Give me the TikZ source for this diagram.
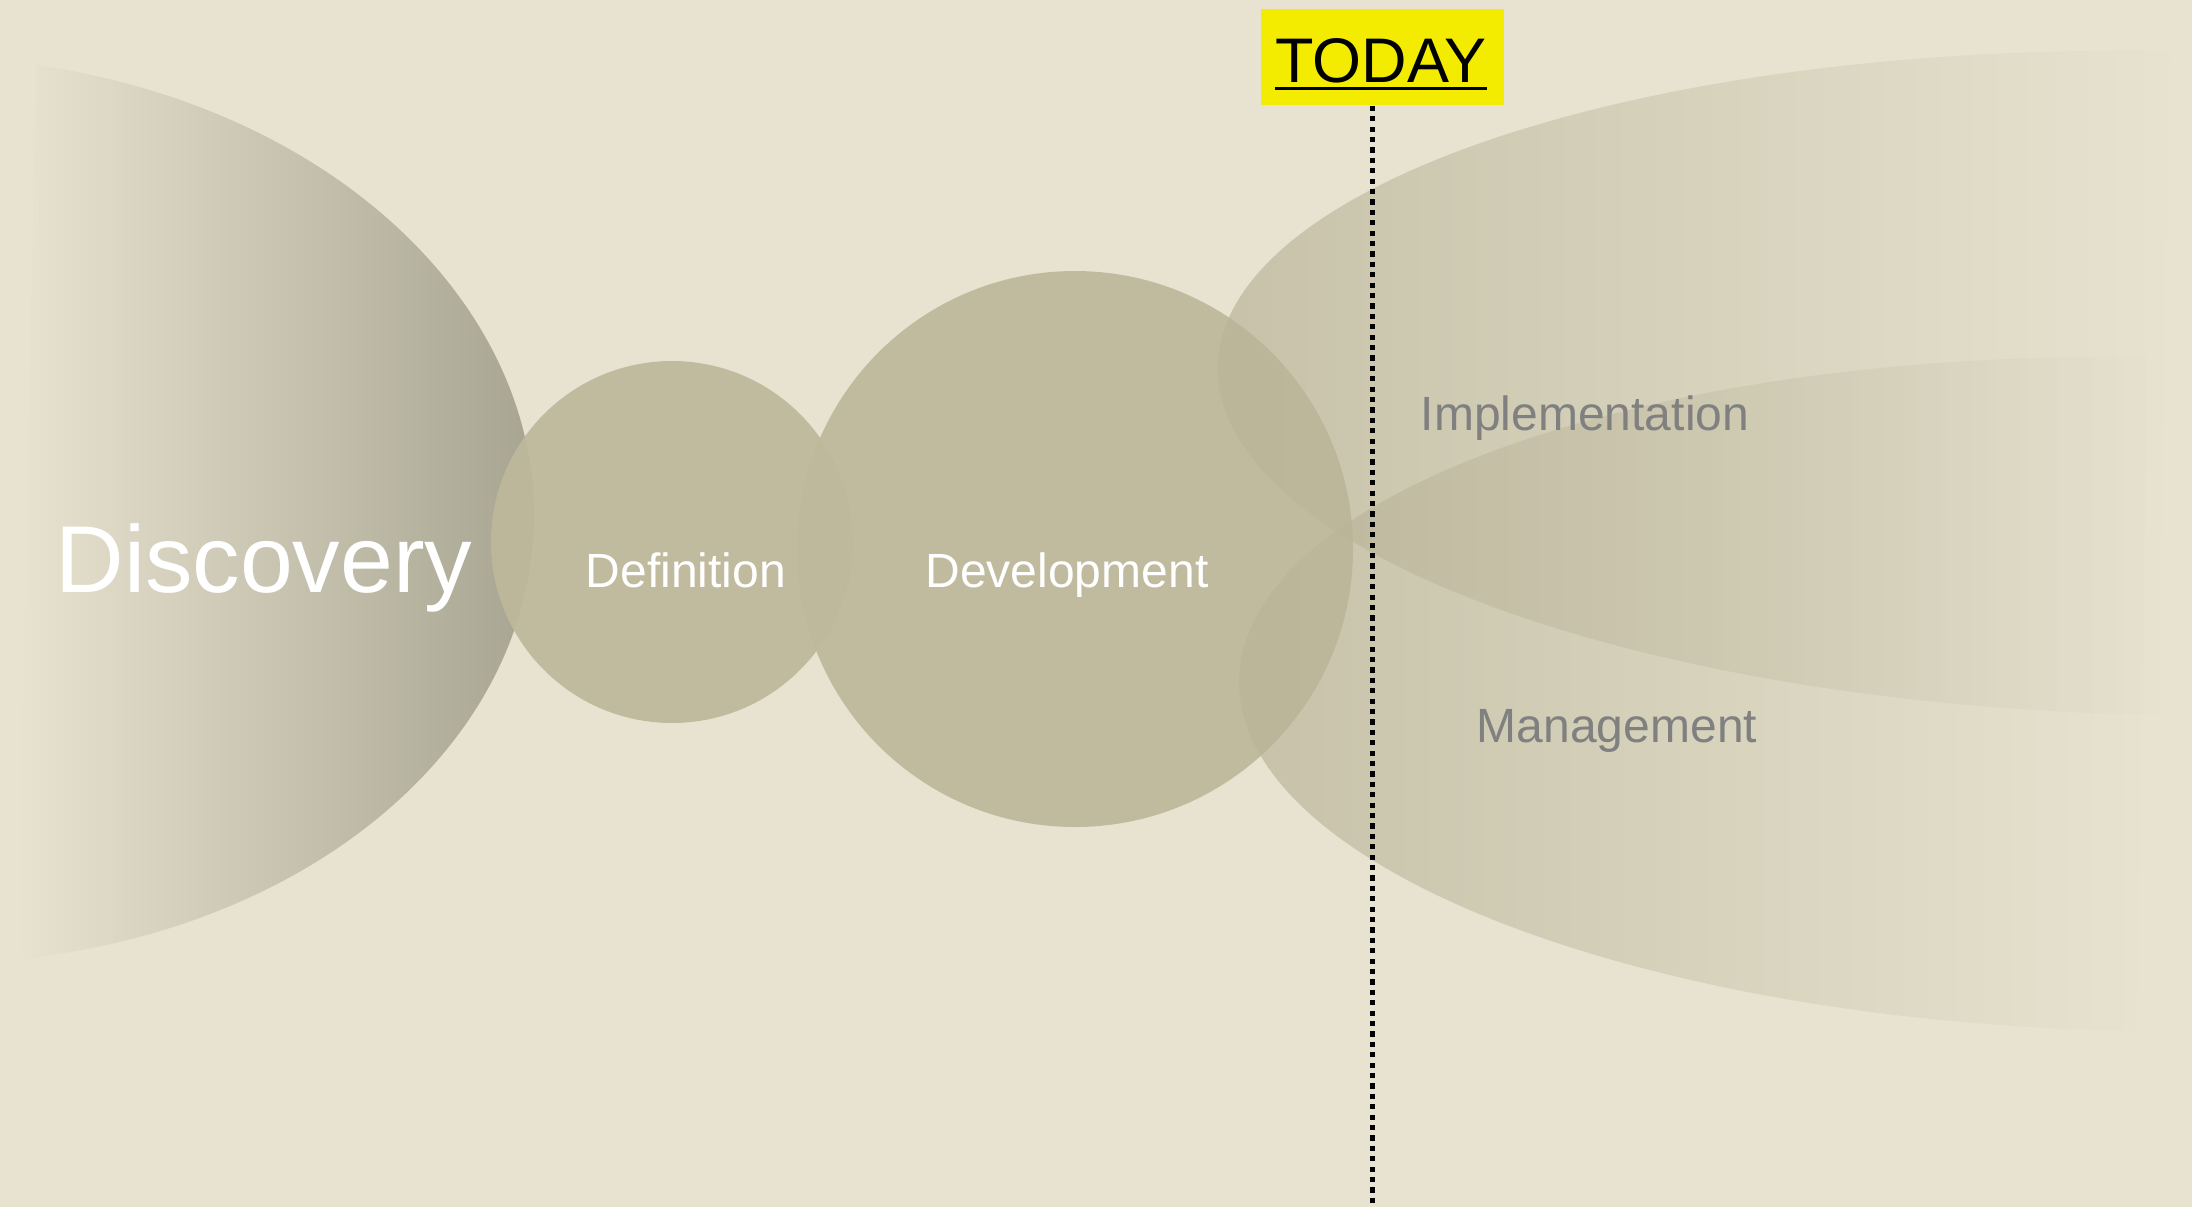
\documentclass[tikz,border=0pt]{standalone}
\usepackage{fontspec}
\setmainfont{Liberation Sans}
\usetikzlibrary{fadings}

\definecolor{paper}{RGB}{232,227,208}
\definecolor{stone}{RGB}{161,159,139}
\definecolor{pebble}{RGB}{190,184,156}
\definecolor{sand}{RGB}{186,181,153}
\definecolor{marker}{RGB}{244,236,0}
\definecolor{ash}{RGB}{128,128,128}

\tikzset{every picture/.style={line width=0.75pt}}
\tikzset{
  phase/.style={fill=pebble, fill opacity=0.93},
  branch/.style={fill=sand, fill opacity=0.72, path fading=east},
  phaselabel/.style={anchor=base, inner sep=0pt, text=white, font=\fontsize{24pt}{28pt}\selectfont},
  branchlabel/.style={anchor=base, inner sep=0pt, text=ash, font=\fontsize{24pt}{28pt}\selectfont},
  todaybox/.style={fill=marker, minimum width=121.5pt, minimum height=48pt, inner sep=0pt},
  todaytext/.style={anchor=base, inner sep=0pt, text=black, font=\fontsize{31.5pt}{36pt}\selectfont},
  nowline/.style={line width=2.5pt, dash pattern={on 2.6pt off 2.6pt}},
}

\begin{document}
\begin{tikzpicture}[x=0.5pt,y=0.5pt,yscale=-1,xscale=1]
  \useasboundingbox (0,0) rectangle (2192,1207);
  \fill[paper] (0,0) rectangle (2192,1207);

  %Shape: Ellipse cut at the left edge, widest phase
  \shade[left color=paper, right color=stone, rotate around={1.2:(27,512)}]
    (27,65) arc[start angle=-80.76, end angle=80.76, x radius=604, y radius=453] -- cycle;

  %Shape: Circle
  \fill[phase] (672,542) circle[radius=181];
  %Shape: Circle
  \fill[phase] (1075,549) circle[radius=278];

  %Shape: Half Ellipse, upper branch
  \fill[branch, rotate around={1:(2165,383)}]
    (2165,715) arc[start angle=90, end angle=270, x radius=947, y radius=332] -- cycle;
  %Shape: Half Ellipse, lower branch
  \fill[branch, rotate around={0.9:(2142,694)}]
    (2142,1031) arc[start angle=90, end angle=270, x radius=903, y radius=337] -- cycle;

  % Today marker
  \node[todaybox] (today) at (1382.5,57) {};
  \node[todaytext] (todaylabel) at (1381,82) {TODAY};
  \draw[line width=1.5pt] ([yshift=3pt]todaylabel.base west) -- ([yshift=3pt]todaylabel.base east);
  \coordinate (nowfoot) at (1372,1207);
  \draw[nowline] (today.south -| nowfoot) -- (nowfoot);

  % Text Node
  \node[phaselabel, font=\fontsize{47.5pt}{54pt}\selectfont] (discovery) at (264,592) {Discovery};
  % Text Node
  \node[phaselabel] (definition) at (686,587) {Definition};
  % Text Node
  \node[phaselabel] (development) at (1067,587) {Development};
  % Text Node
  \node[branchlabel] (implementation) at (1585,430) {Implementation};
  % Text Node
  \node[branchlabel] (management) at (1617,742) {Management};
\end{tikzpicture}
\end{document}
